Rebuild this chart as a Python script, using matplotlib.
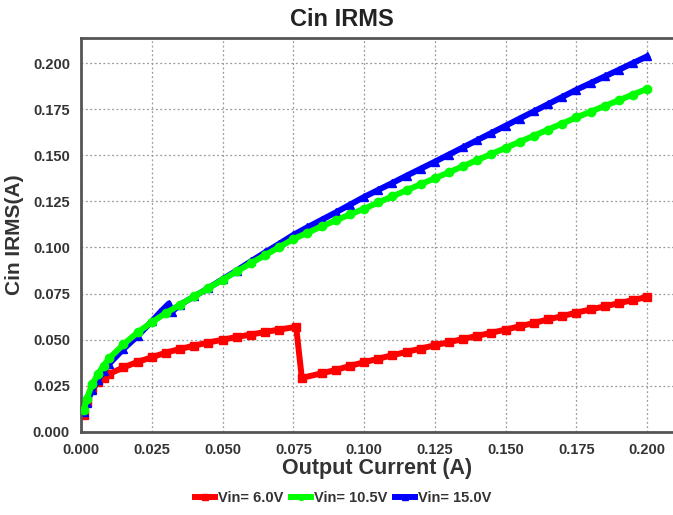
import matplotlib
matplotlib.use("Agg")
import matplotlib.pyplot as plt

# ==========================
# DATA
# ==========================
x_6v = [0.001, 0.002, 0.004, 0.006, 0.008, 0.010, 0.015, 0.020, 0.025, 0.030,
        0.035, 0.040, 0.045, 0.050, 0.055, 0.060, 0.065, 0.070, 0.076, 0.078,
        0.085, 0.090, 0.095, 0.100, 0.105, 0.110, 0.115, 0.120, 0.125, 0.130,
        0.135, 0.140, 0.145, 0.150, 0.155, 0.160, 0.165, 0.170, 0.175, 0.180,
        0.185, 0.190, 0.195, 0.200]
y_6v = [0.0090, 0.0165, 0.0235, 0.0270, 0.0295, 0.0315, 0.0350, 0.0380, 0.0405, 0.0430,
        0.0450, 0.0468, 0.0485, 0.0500, 0.0515, 0.0528, 0.0542, 0.0555, 0.0570, 0.0293,
        0.0318, 0.0336, 0.0358, 0.0378, 0.0397, 0.0416, 0.0434, 0.0452, 0.0470, 0.0487,
        0.0504, 0.0521, 0.0538, 0.0555, 0.0573, 0.0591, 0.0610, 0.0628, 0.0647, 0.0664,
        0.0681, 0.0698, 0.0715, 0.0732]

x_10v5 = [0.001, 0.002, 0.004, 0.006, 0.008, 0.010, 0.015, 0.020, 0.025, 0.030,
          0.035, 0.040, 0.045, 0.050, 0.055, 0.060, 0.065, 0.070, 0.075, 0.080,
          0.085, 0.090, 0.095, 0.100, 0.105, 0.110, 0.115, 0.120, 0.125, 0.130,
          0.135, 0.140, 0.145, 0.150, 0.155, 0.160, 0.165, 0.170, 0.175, 0.180,
          0.185, 0.190, 0.195, 0.200]
y_10v5 = [0.0120, 0.0180, 0.0260, 0.0315, 0.0360, 0.0400, 0.0475, 0.0540, 0.0595, 0.0645,
          0.0690, 0.0735, 0.0780, 0.0825, 0.0870, 0.0915, 0.0958, 0.1002, 0.1045, 0.1080,
          0.1114, 0.1147, 0.1179, 0.1210, 0.1244, 0.1277, 0.1310, 0.1343, 0.1375, 0.1408,
          0.1441, 0.1474, 0.1507, 0.1540, 0.1573, 0.1606, 0.1639, 0.1672, 0.1705, 0.1736,
          0.1767, 0.1798, 0.1829, 0.1860]

x_15v = [0.001, 0.002, 0.004, 0.006, 0.008, 0.010, 0.015, 0.020, 0.025, 0.028,
         0.031, 0.032, 0.035, 0.040, 0.045, 0.050, 0.055, 0.060, 0.065, 0.070,
         0.075, 0.080, 0.085, 0.090, 0.095, 0.100, 0.105, 0.110, 0.115, 0.120,
         0.125, 0.130, 0.135, 0.140, 0.145, 0.150, 0.155, 0.160, 0.165, 0.170,
         0.175, 0.180, 0.185, 0.190, 0.195, 0.200]
y_15v = [0.0110, 0.0155, 0.0230, 0.0280, 0.0330, 0.0370, 0.0450, 0.0520, 0.0600, 0.0650,
         0.0696, 0.0650, 0.0690, 0.0735, 0.0780, 0.0828, 0.0875, 0.0925, 0.0973, 0.1020,
         0.1068, 0.1110, 0.1150, 0.1190, 0.1232, 0.1274, 0.1312, 0.1350, 0.1389, 0.1427,
         0.1465, 0.1504, 0.1543, 0.1582, 0.1621, 0.1660, 0.1699, 0.1738, 0.1777, 0.1816,
         0.1855, 0.1891, 0.1927, 0.1963, 0.2000, 0.2036]

x_ticks = [0.000, 0.025, 0.050, 0.075, 0.100, 0.125, 0.150, 0.175, 0.200]
y_ticks = [0.000, 0.025, 0.050, 0.075, 0.100, 0.125, 0.150, 0.175, 0.200]

# ==========================
# PLOT
# ==========================
plt.rcParams['font.family'] = ['Liberation Sans', 'DejaVu Sans']

fig = plt.figure(figsize=(6.73, 5.15), dpi=100)
ax = fig.add_axes([0.1204, 0.1612, 0.879, 0.7648])

ax.plot(x_6v, y_6v, color="#ff0000", lw=4.3, marker="s", ms=6, label="Vin= 6.0V")
ax.plot(x_10v5, y_10v5, color="#00ff00", lw=4.3, marker="o", ms=6, label="Vin= 10.5V", zorder=3)
ax.plot(x_15v, y_15v, color="#0000ff", lw=4.3, marker="^", ms=6, label="Vin= 15.0V")

ax.set_xlim(0, 0.209)
ax.set_ylim(0, 0.2135)
ax.set_xticks(x_ticks)
ax.set_yticks(y_ticks)
ax.set_xticklabels([f"{v:.3f}" for v in x_ticks])
ax.set_yticklabels([f"{v:.3f}" for v in y_ticks])
ax.tick_params(length=0, pad=8, labelsize=10.5, labelcolor="#333333")
for lbl in ax.get_xticklabels() + ax.get_yticklabels():
    lbl.set_fontweight("bold")

ax.grid(True, color="#999999", linestyle=(0, (1.5, 2)), lw=0.9)
for side in ["left", "top", "bottom"]:
    ax.spines[side].set_color("#555555")
    ax.spines[side].set_linewidth(2)
ax.spines["right"].set_visible(False)

fig.text(0.508, 0.963, "Cin IRMS", ha="center", va="center",
         fontsize=17, fontweight="bold", color="#222222")
ax.set_xlabel("Output Current (A)", fontsize=15.5, fontweight="bold", color="#333333", labelpad=1)
ax.set_ylabel("Cin IRMS(A)", fontsize=15, fontweight="bold", color="#333333", labelpad=6)

leg = fig.legend(loc="center", bbox_to_anchor=(0.51, 0.033), ncol=3, frameon=False,
                 handlelength=1.4, handletextpad=0.2, columnspacing=0.5,
                 prop={"weight": "bold", "size": 10.5}, markerscale=0.7)
for t in leg.get_texts():
    t.set_color("#333333")

fig.savefig("out.png", dpi=100)
